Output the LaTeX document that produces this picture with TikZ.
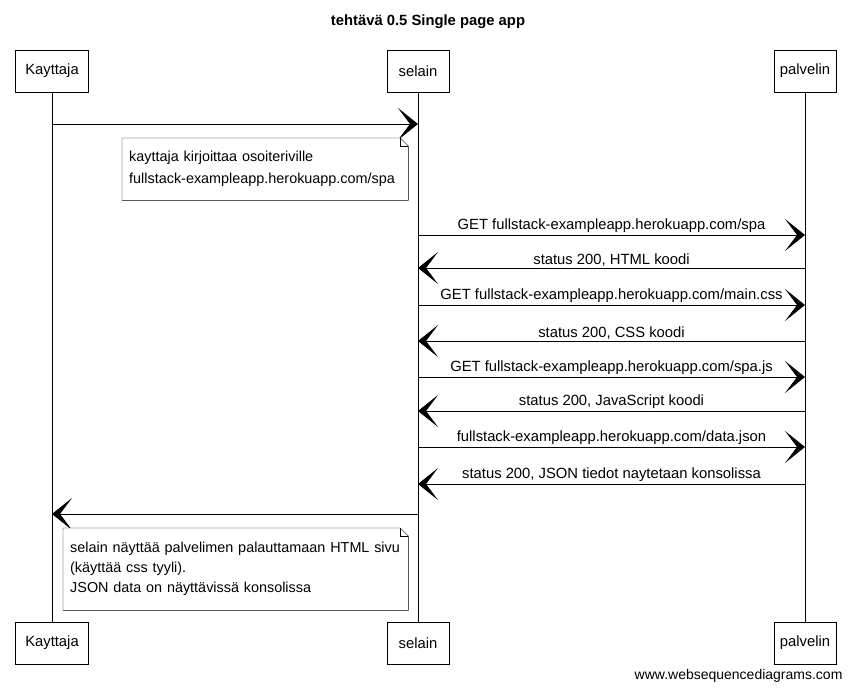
\documentclass[tikz,border=0pt]{standalone}
\usepackage{fontspec}
\setmainfont{Liberation Sans}
\usetikzlibrary{arrows.meta}

\begin{document}
\begin{tikzpicture}
            [x=1pt, y=-1pt, every node/.style={font=\fontsize{14.8}{20}\selectfont},
             actor/.style={draw, fill=white, minimum height=42pt, inner xsep=0pt},
             msg/.style={-{Stealth[length=20pt,width=32pt,inset=12pt]}, line width=0.9pt},
             lbl/.style={above, inner sep=1.5pt},
             note/.style={fill=white, align=left, inner sep=7pt, anchor=north west,
               font=\fontsize{14.4}{20}\selectfont}]

            \useasboundingbox (0,0) rectangle (855,690);

            \node[font=\fontsize{14.8}{18}\selectfont\bfseries] (title) at (428,22) {tehtävä 0.5 Single page app};

            % participants
            \node[actor, minimum width=73pt] (kayttaja) at (52,71) {Kayttaja};
            \node[actor, minimum width=62pt] (selain) at (418,71) {selain};
            \node[actor, minimum width=62pt] (palvelin) at (805,71) {palvelin};
            \node[actor, minimum width=73pt] (kayttajab) at (52,643) {Kayttaja};
            \node[actor, minimum width=62pt] (selainb) at (418,643) {selain};
            \node[actor, minimum width=62pt] (palvelinb) at (805,643) {palvelin};

            \draw (kayttaja) -- (kayttajab);
            \draw (selain) -- (selainb);
            \draw (palvelin) -- (palvelinb);

            % messages
            \draw[msg] (kayttaja |- 0,124) -- (selain |- 0,124);
            \foreach \y/\from/\to/\txt in {
              235/selain/palvelin/{GET fullstack-exampleapp.herokuapp.com/spa},
              268/palvelin/selain/{status 200, HTML koodi},
              305/selain/palvelin/{GET fullstack-exampleapp.herokuapp.com/main.css},
              341/palvelin/selain/{status 200, CSS koodi},
              377/selain/palvelin/{GET fullstack-exampleapp.herokuapp.com/spa.js},
              411/palvelin/selain/{status 200, JavaScript koodi},
              447/selain/palvelin/{fullstack-exampleapp.herokuapp.com/data.json},
              484/palvelin/selain/{status 200, JSON tiedot naytetaan konsolissa}}
              \draw[msg] (\from |- 0,\y) -- (\to |- 0,\y) node[lbl, midway] {\txt};
            \draw[msg] (selain |- 0,514) -- (kayttaja |- 0,514);

            % notes
            \node[note, text width=272pt, minimum height=62pt] (note1) at (122,138)
              {\mbox{kayttaja kirjoittaa osoiteriville}\\[2pt]\mbox{fullstack-exampleapp.herokuapp.com/spa}};
            \node[note, text width=331pt, minimum height=82pt, inner ysep=9pt] (note2) at (63,528)
              {\mbox{selain näyttää palvelimen palauttamaan HTML sivu}\\\mbox{(käyttää css tyyli).}\\\mbox{JSON data on näyttävissä konsolissa}};
            \foreach \n in {note1, note2} {
              \draw (\n.north west) -- ([xshift=-8pt]\n.north east) -- ([yshift=-8pt]\n.north east)
                -- (\n.south east) -- (\n.south west) -- cycle;
              \draw ([xshift=-8pt]\n.north east) -- ([xshift=-8pt,yshift=-8pt]\n.north east)
                -- ([yshift=-8pt]\n.north east);
            }

            \node[anchor=east, font=\fontsize{14}{16}\selectfont] (footer) at (846,676) {www.websequencediagrams.com};
          \end{tikzpicture}
\end{document}
